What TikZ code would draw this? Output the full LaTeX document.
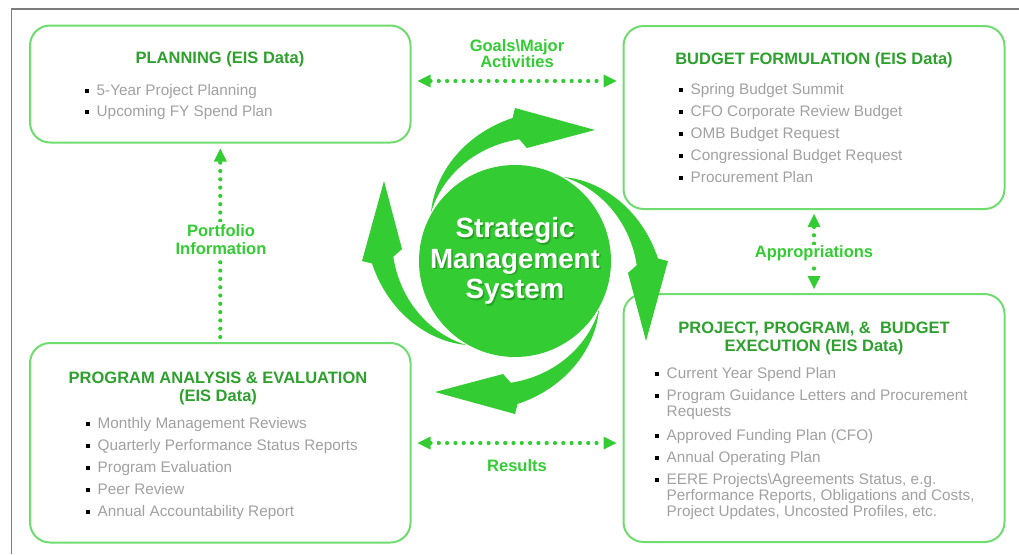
\documentclass[tikz,border=0pt]{standalone}
\usepackage{fontspec}
\setmainfont{Liberation Sans}
\usetikzlibrary{arrows.meta}
\definecolor{lime}{RGB}{51,204,51}
\definecolor{boxgreen}{RGB}{110,220,110}
\definecolor{titlegreen}{RGB}{45,160,45}
\definecolor{itemgray}{RGB}{160,160,160}
\definecolor{framegray}{RGB}{125,125,125}
\definecolor{shadowgreen}{RGB}{20,110,20}
\newcommand{\bitem}[1]{{\color{black}\rule[2pt]{4pt}{4pt}}\hspace{7.5pt}#1}
\newcommand{\twoline}[2]{\begin{tabular}[t]{@{}l@{}}#1\\#2\end{tabular}}
\newcommand{\threeline}[3]{\begin{tabular}[t]{@{}l@{}}#1\\#2\\#3\end{tabular}}
\begin{document}
\begin{tikzpicture}[x=1pt,y=-1pt,
  box/.style={draw=boxgreen, line width=2pt, rounded corners=20pt, inner sep=0, outer sep=0},
  title/.style={font=\fontsize{16.5}{18}\selectfont\bfseries, text=titlegreen, anchor=base, inner sep=0},
  item/.style={font=\fontsize{15.3}{16}\selectfont, text=itemgray, anchor=base west, inner sep=0},
  lbl/.style={font=\fontsize{16.5}{17.5}\selectfont\bfseries, text=lime, align=center, inner sep=0},
  conn/.style={draw=lime, line width=4.2pt, line cap=round, dash pattern=on 0pt off 8.3pt},
  tipA/.tip={Triangle[length=13pt, width=13pt, line width=0pt]}
]
\useasboundingbox (0,0) rectangle (1019,554);
% frame
\draw[framegray, line width=2.5pt] (11,9) -- (1019,9);
\draw[framegray, line width=1.5pt] (11.5,9) -- (11.5,554);

% boxes
\node[box, minimum width=380.5pt, minimum height=117pt] (plan) at (220.25,84) {};
\node[box, minimum width=381pt, minimum height=183pt] (budget) at (814,117.5) {};
\node[box, minimum width=380.5pt, minimum height=199.5pt] (prog) at (220.25,442.75) {};
\node[box, minimum width=381pt, minimum height=248pt] (proj) at (814,418) {};

% planning
\node[title] (plant) at (220,63) {PLANNING (EIS Data)};
\node[item] (pl1) at (85,95) {\bitem{5-Year Project Planning}};
\node[item] (pl2) at (85,116) {\bitem{Upcoming FY Spend Plan}};

% budget formulation
\node[title] (budt) at (814,64) {BUDGET FORMULATION (EIS Data)};
\foreach \t [count=\i] in {Spring Budget Summit, CFO Corporate Review Budget, OMB Budget Request, Congressional Budget Request, Procurement Plan}
  \node[item] (bu\i) at (679,{94+22*(\i-1)}) {\bitem{\t}};

% program analysis
\node[title] (prt1) at (218,383) {PROGRAM ANALYSIS \& EVALUATION};
\node[title] (prt2) at (218,401) {(EIS Data)};
\foreach \t [count=\i] in {Monthly Management Reviews, Quarterly Performance Status Reports, Program Evaluation, Peer Review, Annual Accountability Report}
  \node[item] (pr\i) at (86,{428+22*(\i-1)}) {\bitem{\t}};

% project execution
\node[title] (pjt1) at (814,333) {PROJECT, PROGRAM, \&\ \ BUDGET};
\node[title] (pjt2) at (814,351) {EXECUTION (EIS Data)};
\node[item] (pj1) at (655,378) {\bitem{Current Year Spend Plan}};
\node[item] (pj2) at (655,400) {\bitem{\twoline{Program Guidance Letters and Procurement}{Requests}}};
\node[item] (pj3) at (655,440) {\bitem{Approved Funding Plan (CFO)}};
\node[item] (pj4) at (655,462) {\bitem{Annual Operating Plan}};
\node[item] (pj5) at (655,484) {\bitem{\threeline{EERE Projects\textbackslash Agreements Status, e.g.}{Performance Reports, Obligations and Costs,}{Project Updates, Uncosted Profiles, etc.}}};

% connectors
\coordinate (gy) at (0,81);
\coordinate (ry) at (0,443);
\draw[conn, tipA-tipA, shorten <=7pt, shorten >=7pt] (plan.east |- gy) -- (budget.west |- gy);
\node[lbl, anchor=base] (g1) at (517,51) {Goals\textbackslash Major};
\node[lbl, anchor=base] (g2) at (517,67.5) {Activities};

\draw[conn, tipA-tipA, shorten <=7pt, shorten >=7pt] (prog.east |- ry) -- (proj.west |- ry);
\node[lbl, anchor=base] (res) at (517,471.5) {Results};

\draw[conn, -tipA, shorten <=6pt, shorten >=6pt] (prog.north) -- (plan.south);
\node[lbl, fill=white, inner xsep=2pt, inner ysep=3pt] (port) at (221,239.5) {Portfolio\\Information};

\draw[conn, tipA-tipA, shorten <=5pt, shorten >=5pt] (budget.south) -- (proj.north);
\node[lbl, fill=white, anchor=base, inner xsep=2pt, inner ysep=1pt] (appr) at (814,257.5) {Appropriations};

% central swirl
\node[circle, fill=lime, minimum size=192pt, inner sep=0] (sms) at (515,261) {};
\begin{scope}[shift={(515,261)}, x=1pt, y=1pt]
\foreach \r in {0,-90,-180,-270}{
  \fill[lime, rotate=\r] plot[domain=150:91, samples=40, variable=\t] (\t:{97+(150-\t)*0.78})
     -- (90:153) -- (58.6:153.5) -- (84:113.6)
     -- plot[domain=88:150, samples=40, variable=\t] (\t:{97+(150-\t)*0.4}) -- cycle;
}
\end{scope}
\node[font=\fontsize{27.8}{30.5}\selectfont\bfseries, text=shadowgreen, opacity=0.45, align=center] (smsshadow) at ([shift={(1.5,1.5)}]sms.center) {Strategic\\Management\\System};
\node[font=\fontsize{27.8}{30.5}\selectfont\bfseries, text=white, align=center] (smstext) at (sms.center) {Strategic\\Management\\System};
\end{tikzpicture}
\end{document}
